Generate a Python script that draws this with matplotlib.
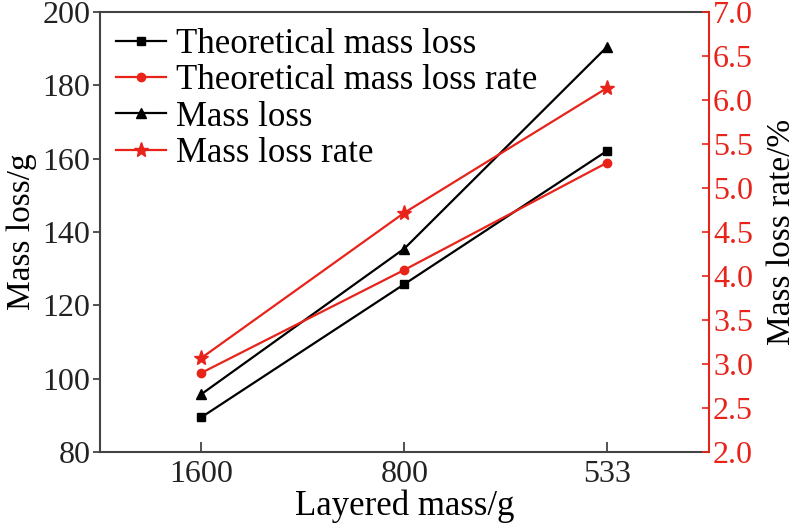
import matplotlib.pyplot as plt

plt.rcParams['font.family'] = ['Liberation Serif', 'DejaVu Serif']
plt.rcParams['mathtext.fontset'] = 'stix'

categories = ["1600", "800", "533"]
theo_mass_loss = [89.5, 125.8, 162.2]
mass_loss = [95.8, 135.5, 190.6]
theo_loss_rate = [2.90, 4.07, 5.29]
loss_rate = [3.07, 4.72, 6.14]

red = "#e8231a"
fs_tick = 23
fs_lab = 24

fig, ax = plt.subplots(figsize=(8, 5.25), dpi=100)
fig.subplots_adjust(left=0.125, right=0.886, top=0.977, bottom=0.139)
ax2 = ax.twinx()

x = range(len(categories))
l1, = ax.plot(x, theo_mass_loss, color="black", marker="s", markersize=6, lw=1.6,
              label="Theoretical mass loss")
l2, = ax2.plot(x, theo_loss_rate, color=red, marker="o", markersize=6, lw=1.6,
               label="Theoretical mass loss rate")
l3, = ax.plot(x, mass_loss, color="black", marker="^", markersize=7, lw=1.6,
              label="Mass loss")
l4, = ax2.plot(x, loss_rate, color=red, marker="*", markersize=11, lw=1.6,
               label="Mass loss rate")

ax.set_xlim(-0.5, 2.5)
ax.set_xticks(list(x))
ax.set_xticklabels(categories)
ax.set_ylim(80, 200)
ax.set_yticks(range(80, 201, 20))
ax2.set_ylim(2.0, 7.0)
ax2.set_yticks([2.0 + 0.5 * i for i in range(11)])
ax2.set_yticklabels([f"{2.0 + 0.5 * i:.1f}" for i in range(11)])

ax.set_xlabel("Layered mass/g", fontsize=fs_lab + 1, labelpad=0)
ax.set_ylabel("Mass loss/g", fontsize=fs_lab, labelpad=4)
ax2.set_ylabel("Mass loss rate/%", fontsize=fs_lab, labelpad=10)

ax.tick_params(axis="y", direction="out", length=5, width=1.2, labelsize=fs_tick,
               colors="#333333", labelcolor="#222222", pad=2)
ax.tick_params(axis="x", direction="in", length=7, width=1.2, labelsize=fs_tick,
               colors="#333333", labelcolor="#222222", pad=6)
ax2.tick_params(axis="y", direction="in", length=5, width=1.2, labelsize=fs_tick,
                colors=red, labelcolor=red, pad=3)

for s in ["left", "bottom", "top"]:
    ax.spines[s].set_color("#444444")
    ax.spines[s].set_linewidth(1.5)
ax2.spines["right"].set_color(red)
ax2.spines["right"].set_linewidth(1.5)
for s in ["left", "bottom", "top"]:
    ax2.spines[s].set_visible(False)
ax.spines["right"].set_visible(False)

leg = ax.legend(handles=[l1, l2, l3, l4], loc="upper left", frameon=False,
                fontsize=25, handlelength=1.45, handletextpad=0.3,
                labelspacing=0.1, borderaxespad=0.05, bbox_to_anchor=(0.0, 1.0))

fig.savefig("out.png", dpi=100)
